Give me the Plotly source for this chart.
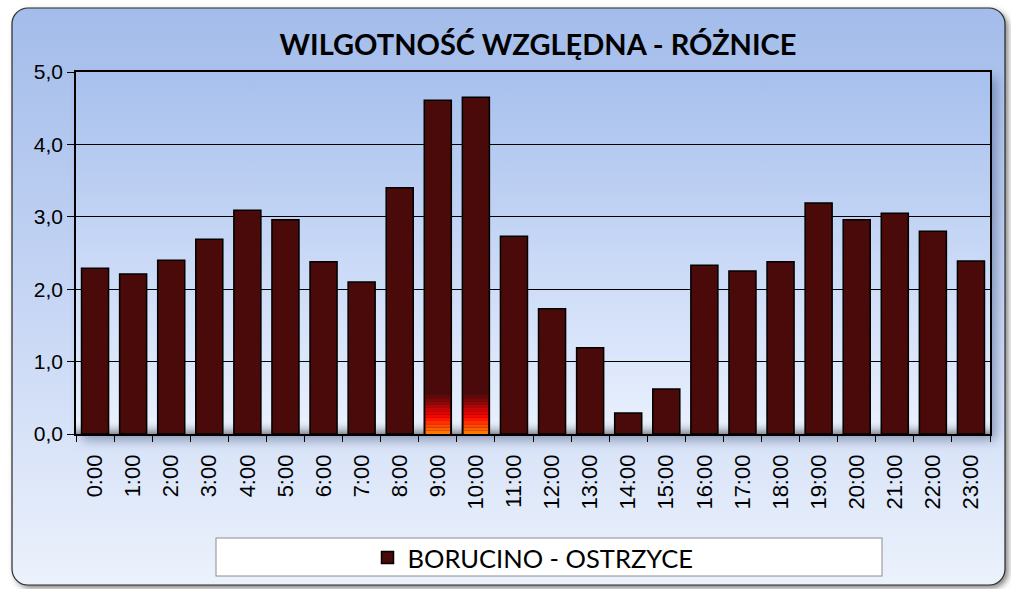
import base64
import plotly.graph_objects as go

hours = ["0:00", "1:00", "2:00", "3:00", "4:00", "5:00", "6:00", "7:00", "8:00", "9:00",
         "10:00", "11:00", "12:00", "13:00", "14:00", "15:00", "16:00", "17:00", "18:00",
         "19:00", "20:00", "21:00", "22:00", "23:00"]
diff = [2.29, 2.21, 2.40, 2.69, 3.09, 2.96, 2.38, 2.10, 3.40, 4.61,
        4.65, 2.73, 1.73, 1.19, 0.29, 0.62, 2.33, 2.25, 2.38, 3.19,
        2.96, 3.05, 2.80, 2.39]
series_name = "BORUCINO - OSTRZYCE"
title_text = "WILGOTNOŚĆ WZGLĘDNA - RÓŻNICE"
y_ticks = [0, 1, 2, 3, 4, 5]
glow_hours = ["9:00", "10:00"]

W, H = 1011, 589
ML, MR, MT, MB = 76, 21, 72, 155
PW, PH = W - ML - MR, H - MT - MB

svg = f'''<svg xmlns="http://www.w3.org/2000/svg" width="{W}" height="{H}" viewBox="0 0 {W} {H}">
<defs>
<linearGradient id="g1" x1="0" y1="0" x2="0" y2="1">
<stop offset="0" stop-color="#a3bcea"/><stop offset="0.55" stop-color="#c9d8f5"/><stop offset="1" stop-color="#ecf2fc"/>
</linearGradient>
<linearGradient id="g2" x1="0" y1="0" x2="0" y2="1">
<stop offset="0" stop-color="#a7c0ed"/><stop offset="0.5" stop-color="#c8d8f6"/><stop offset="1" stop-color="#eaf1fd"/>
</linearGradient>
<linearGradient id="g3" x1="0" y1="0" x2="0" y2="1">
<stop offset="0" stop-color="#eaf1fd" stop-opacity="0"/><stop offset="1" stop-color="#8a8f9a"/>
</linearGradient>
<filter id="sh" x="-10%" y="-10%" width="120%" height="120%"><feGaussianBlur stdDeviation="6"/></filter>
<filter id="sh2" x="-10%" y="-10%" width="120%" height="120%"><feGaussianBlur stdDeviation="3"/></filter>
</defs>
<rect x="15" y="11" width="993" height="577" rx="16" fill="#7a7a7a" filter="url(#sh2)"/>
<rect x="12" y="8" width="993" height="577" rx="16" fill="url(#g1)" stroke="#2a2a2a" stroke-width="1.2"/>
<rect x="{ML+6}" y="{MT+6}" width="{PW}" height="{PH}" fill="#4a5a80" opacity="0.55" filter="url(#sh)"/>
<rect x="{ML}" y="{MT}" width="{PW}" height="{PH}" fill="url(#g2)"/>
<rect x="{ML}" y="{MT+PH-14}" width="{PW}" height="14" fill="url(#g3)"/>
<rect x="216" y="538" width="666" height="38" fill="#ffffff" stroke="#8c8c8c" stroke-width="1"/>
</svg>'''
src = "data:image/svg+xml;base64," + base64.b64encode(svg.encode()).decode()

fig = go.Figure()
fig.add_trace(go.Bar(
    x=hours, y=diff, name=series_name,
    marker=dict(color="#4a0a0a", line=dict(color="#000000", width=1.5)),
))

# orange glow at the base of the two highest bars
glow_cols = ["#ff7800", "#ff6000", "#ff4800", "#ff3000", "#ff1800", "#f80600",
             "#e00404", "#c80505", "#ae0606", "#920808", "#780909", "#5e0a0a"]
seg = 0.045
for i, c in enumerate(glow_cols):
    fig.add_trace(go.Bar(
        x=glow_hours, y=[seg] * len(glow_hours), base=[i * seg] * len(glow_hours),
        marker=dict(color=c, line=dict(width=0)), showlegend=False, hoverinfo="skip",
        width=0.64,
    ))

fig.update_layout(
    width=W, height=H,
    margin=dict(l=ML, r=MR, t=MT, b=MB, autoexpand=False),
    paper_bgcolor="#ffffff", plot_bgcolor="rgba(0,0,0,0)",
    barmode="overlay", bargap=0.29,
    separators=", ",
    title=dict(text="<b>" + title_text + "</b>", x=538 / W, xanchor="center",
               y=1 - 45 / H, yanchor="middle",
               font=dict(family="Lato, Roboto, sans-serif", size=29, color="#000000")),
    font=dict(family="Liberation Sans, Arial, sans-serif", size=21, color="#000000"),
    showlegend=True,
    legend=dict(orientation="h", x=0.5, xanchor="center", y=-(558 - 434) / PH, yanchor="middle",
                bgcolor="rgba(0,0,0,0)",
                font=dict(family="Lato, Roboto, sans-serif", size=25.5, color="#000000"),
                itemwidth=30),
    images=[dict(source=src, xref="paper", yref="paper",
                 x=-ML / PW, y=1 + MT / PH, sizex=W / PW, sizey=H / PH,
                 xanchor="left", yanchor="top", sizing="stretch", layer="below")],
)
fig.update_xaxes(
    type="category", tickangle=-90, showline=True, linecolor="#000000", linewidth=1.5,
    ticks="outside", tickson="boundaries", ticklen=6, tickcolor="#000000",
    showgrid=False, mirror=True, ticklabelstandoff=10, automargin=False,
    tickfont=dict(size=22),
)
fig.update_yaxes(
    range=[0, 5], tickvals=y_ticks, tickformat=".1f",
    showline=True, linecolor="#000000", linewidth=1.5, mirror=True,
    ticks="outside", ticklen=7, tickcolor="#000000", automargin=False,
    showgrid=True, gridcolor="#000000", gridwidth=1, zeroline=False,
    tickfont=dict(size=21),
)
fig.write_html("out.html", config={"displayModeBar": False},
               post_script="document.body.style.margin='0px';document.body.style.overflow='hidden';")
